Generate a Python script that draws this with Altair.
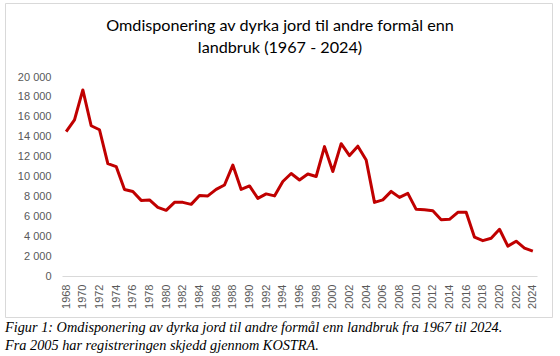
import altair as alt
import pandas as pd

YEARS = list(range(1968, 2025))
VALUES = [
    14500, 15700, 18700, 15100, 14700, 11300, 11000, 8700, 8500, 7600,
    7650, 6900, 6600, 7400, 7400, 7200, 8100, 8050, 8700, 9150,
    11150, 8700, 9050, 7800, 8250, 8050, 9500, 10300, 9650, 10250,
    10000, 13000, 10500, 13300, 12100, 13050, 11650, 7400, 7650, 8500,
    7900, 8300, 6700, 6650, 6550, 5650, 5700, 6400, 6400, 3900,
    3550, 3800, 4700, 3000, 3500, 2800, 2500,
]
X_TICKS = list(range(1968, 2025, 2))
Y_TICKS = list(range(0, 20001, 2000))
TITLE_LINES = ["Omdisponering av dyrka jord til andre formål enn", "landbruk (1967 - 2024)"]
CAPTION_LINES = [
    "Figur 1: Omdisponering av dyrka jord til andre formål enn landbruk fra 1967 til 2024.",
    "Fra 2005 har registreringen skjedd gjennom KOSTRA.",
]

df = pd.DataFrame({"year": YEARS, "value": VALUES})

W, H = 475, 199

line = alt.Chart(df).mark_line(color="#C00000", strokeWidth=3, strokeJoin="round").encode(
    x=alt.X(
        "year:Q",
        scale=alt.Scale(domain=[1967.5, 2024.5], nice=False, zero=False),
        axis=alt.Axis(
            values=X_TICKS, labelAngle=-90, format="d", title=None, grid=False, ticks=False,
            domainColor="#d9d9d9", domainWidth=1, labelColor="#595959", labelFont="Liberation Sans",
            labelFontSize=11, labelPadding=8, labelOverlap=False,
        ),
    ),
    y=alt.Y(
        "value:Q",
        scale=alt.Scale(domain=[0, 20000], nice=False),
        axis=alt.Axis(
            values=Y_TICKS, title=None, grid=False, ticks=False, domain=False,
            labelColor="#595959", labelFont="Liberation Sans", labelFontSize=11, labelPadding=11,
            labelExpr="replace(format(datum.value, ','), ',', ' ')",
        ),
    ),
)

border = alt.Chart(alt.Data(values=[{}])).mark_rect(
    fill=None, stroke="#d9d9d9", strokeWidth=1
).encode(x=alt.value(-56.5), x2=alt.value(490.5), y=alt.value(-73.5), y2=alt.value(240.5))

layers = [border, line]
for i, t in enumerate(TITLE_LINES):
    layers.append(
        alt.Chart(alt.Data(values=[{}])).mark_text(
            font="Lato", fontSize=16.2, color="#000000", align="center", baseline="alphabetic"
        ).encode(x=alt.value(218), y=alt.value(-46 + i * 22), text=alt.value(t))
    )
for i, t in enumerate(CAPTION_LINES):
    layers.append(
        alt.Chart(alt.Data(values=[{}])).mark_text(
            font="Liberation Serif", fontSize=14.3, fontStyle="italic", color="#000000",
            align="left", baseline="alphabetic"
        ).encode(x=alt.value(-57), y=alt.value(255 + i * 18), text=alt.value(t))
    )

chart = alt.layer(*layers).properties(
    width=W, height=H,
    autosize=alt.AutoSizeParams(type="none"),
    padding={"left": 62, "top": 77, "right": 23, "bottom": 80},
    background="white",
).configure_view(stroke=None)

chart.save("out.html", embed_options={"renderer": "svg", "actions": False})
